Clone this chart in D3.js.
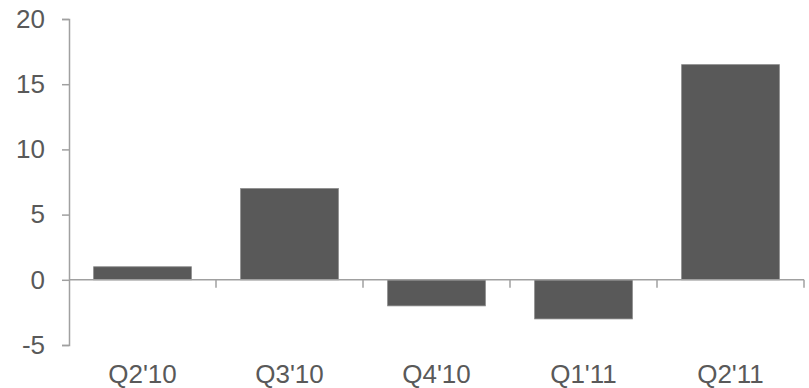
<!DOCTYPE html>
<html><head><meta charset="utf-8">
<script src="https://cdn.jsdelivr.net/npm/d3@7"></script>
<style>
html,body{margin:0;padding:0;background:#fff;}
svg{display:block;}
text{font-family:"Liberation Sans",Arial,sans-serif;fill:#595959;}
</style></head>
<body>
<script>
const categories = ["Q2'10","Q3'10","Q4'10","Q1'11","Q2'11"];
const values = [1.0, 7.0, -2.0, -3.0, 16.5];
const yTicks = [-5, 0, 5, 10, 15, 20];

const W = 809, H = 388;
const svg = d3.select("body").append("svg").attr("width", W).attr("height", H);

const x = d3.scaleBand().domain(categories).range([69, 804]).paddingInner(0.335).paddingOuter(0.1675);
const y = d3.scaleLinear().domain([-5, 20]).range([345, 19]);
const axisColor = "#a0a0a0";

// bars
svg.append("g").selectAll("rect").data(values).join("rect")
  .attr("x", (d,i) => x(categories[i]))
  .attr("width", x.bandwidth())
  .attr("y", d => y(Math.max(0, d)))
  .attr("height", d => Math.abs(y(d) - y(0)))
  .attr("fill", "#595959")
  .attr("stroke", "#8a8a8a")
  .attr("stroke-width", 0.8);

// y axis
const yAxis = svg.append("g").attr("transform", "translate(69,0)")
  .call(d3.axisLeft(y).tickValues(yTicks).tickSize(7).tickPadding(17).tickFormat(d => String(d)));
yAxis.select(".domain").attr("stroke", axisColor).attr("stroke-width", 1.5);
yAxis.selectAll(".tick line").attr("stroke", axisColor).attr("stroke-width", 1.5);
yAxis.selectAll(".tick text").attr("font-size", 26).attr("fill", "#595959")
  .attr("font-family", "'Liberation Sans',Arial,sans-serif");

// x axis at zero with boundary ticks
const step = x.step();
const boundaries = d3.range(categories.length + 1).map(i => 69 + i * step);
const gx = svg.append("g");
gx.append("line").attr("x1", 69).attr("x2", 804).attr("y1", y(0)).attr("y2", y(0))
  .attr("stroke", axisColor).attr("stroke-width", 1.5);
gx.selectAll("line.b").data(boundaries.slice(1)).join("line").attr("class","b")
  .attr("x1", d => d).attr("x2", d => d).attr("y1", y(0)).attr("y2", y(0) + 8)
  .attr("stroke", axisColor).attr("stroke-width", 1.5);

// category labels
svg.append("g").selectAll("text").data(categories).join("text")
  .attr("x", d => x(d) + x.bandwidth() / 2)
  .attr("y", 383)
  .attr("text-anchor", "middle")
  .attr("font-size", 26)
  .text(d => d);
</script>
</body></html>
